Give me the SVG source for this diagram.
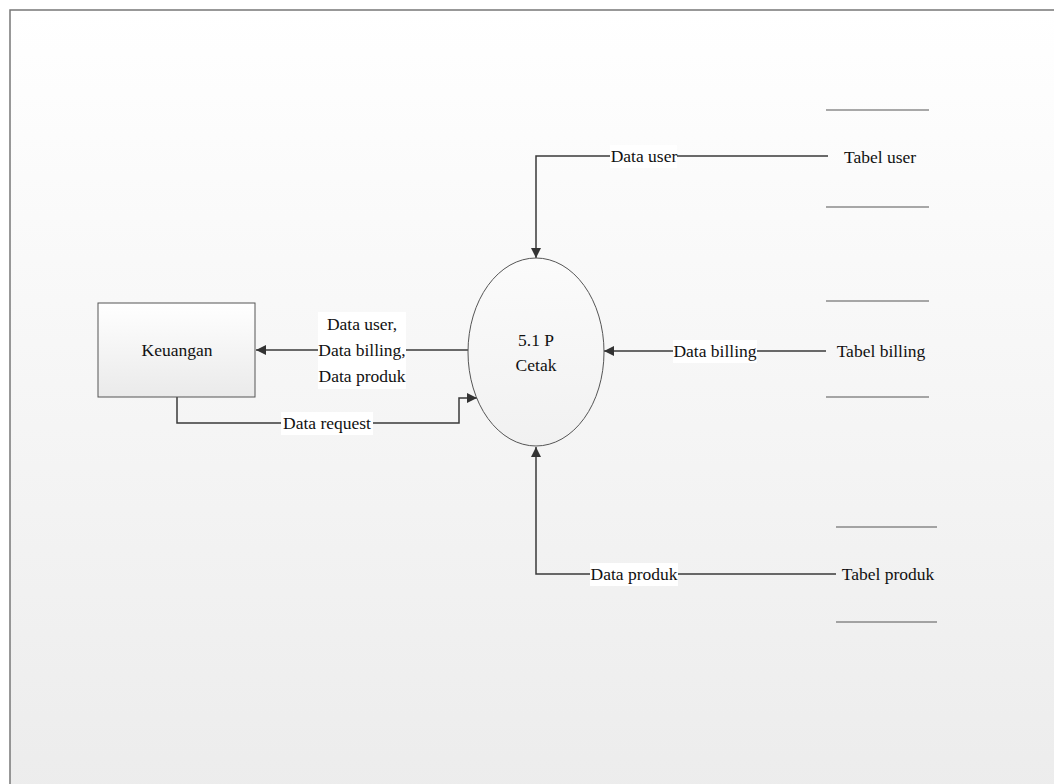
<svg xmlns="http://www.w3.org/2000/svg" width="1054" height="784" viewBox="0 0 1054 784">
  <defs>
    <linearGradient id="pageFill" x1="0" y1="0" x2="0" y2="1">
      <stop offset="0" stop-color="#ffffff"/>
      <stop offset="1" stop-color="#ececec"/>
    </linearGradient>
    <linearGradient id="boxFill" x1="0" y1="0" x2="0" y2="1">
      <stop offset="0" stop-color="#ffffff"/>
      <stop offset="1" stop-color="#eaeaea"/>
    </linearGradient>
    <linearGradient id="ovalFill" x1="0" y1="0" x2="0" y2="1">
      <stop offset="0" stop-color="#fbfbfb"/>
      <stop offset="1" stop-color="#f1f1f1"/>
    </linearGradient>
    <marker id="arrow" viewBox="0 0 10 10" refX="10" refY="5" markerWidth="10" markerHeight="10" markerUnits="userSpaceOnUse" orient="auto">
      <path d="M0,0 L10,5 L0,10 z" fill="#333"/>
    </marker>
    <style>
      .txt { font-family: "Liberation Serif", "Times New Roman", serif; font-size: 17.5px; fill: #111; text-anchor: middle; dominant-baseline: central; }
      .flow { fill: none; stroke: #3a3a3a; stroke-width: 1.5; }
      .store { stroke: #555; stroke-width: 1.2; }
      .lbl { fill: #ffffff; }
    </style>
  </defs>

  <!-- page -->
  <rect x="10" y="10" width="1060" height="790" fill="url(#pageFill)" stroke="#777" stroke-width="1.5"/>

  <!-- connectors -->
  <g id="connectors">
    <polyline class="flow" points="828,156 536,156 536,258" marker-end="url(#arrow)"/>
    <polyline class="flow" points="826,351 604,351" marker-end="url(#arrow)"/>
    <polyline class="flow" points="836,574 536,574 536,447" marker-end="url(#arrow)"/>
    <polyline class="flow" points="468,350 256,350" marker-end="url(#arrow)"/>
    <polyline class="flow" points="177,397 177,423 459,423 459,398 477,398" marker-end="url(#arrow)"/>

    <rect class="lbl" x="610" y="145" width="67" height="23"/>
    <text class="txt" x="644" y="156">Data user</text>
    <rect class="lbl" x="673" y="340" width="84" height="23"/>
    <text class="txt" x="715" y="351">Data billing</text>
    <rect class="lbl" x="590" y="563" width="88" height="23"/>
    <text class="txt" x="634" y="574">Data produk</text>
    <rect class="lbl" x="318" y="312" width="88" height="77"/>
    <text class="txt" x="362" y="324">Data user,</text>
    <text class="txt" x="362" y="350">Data billing,</text>
    <text class="txt" x="362" y="376">Data produk</text>
    <rect class="lbl" x="281" y="412" width="92" height="23"/>
    <text class="txt" x="327" y="423">Data request</text>
  </g>

  <!-- external entity -->
  <g id="keuangan">
    <rect x="98" y="303" width="157" height="94" fill="url(#boxFill)" stroke="#555" stroke-width="1"/>
    <text class="txt" x="177" y="350">Keuangan</text>
  </g>

  <!-- process -->
  <g id="proses-cetak">
    <ellipse cx="536" cy="352" rx="68" ry="94" fill="url(#ovalFill)" stroke="#555" stroke-width="1"/>
    <text class="txt" x="536" y="340">5.1 P</text>
    <text class="txt" x="536" y="365">Cetak</text>
  </g>

  <!-- data stores -->
  <g id="tabel-user">
    <line class="store" x1="826" y1="110" x2="929" y2="110"/>
    <line class="store" x1="826" y1="207" x2="929" y2="207"/>
    <text class="txt" x="880" y="157">Tabel user</text>
  </g>
  <g id="tabel-billing">
    <line class="store" x1="826" y1="301" x2="929" y2="301"/>
    <line class="store" x1="826" y1="397" x2="929" y2="397"/>
    <text class="txt" x="881" y="351">Tabel billing</text>
  </g>
  <g id="tabel-produk">
    <line class="store" x1="836" y1="527" x2="937" y2="527"/>
    <line class="store" x1="836" y1="622" x2="937" y2="622"/>
    <text class="txt" x="888" y="574">Tabel produk</text>
  </g>
</svg>
